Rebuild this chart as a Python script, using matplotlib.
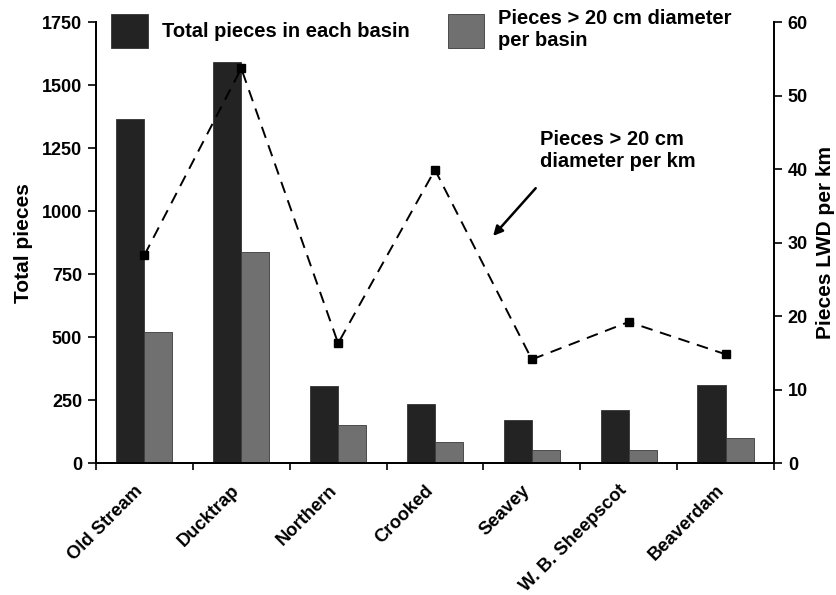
import numpy as np
import matplotlib.pyplot as plt
from matplotlib.transforms import ScaledTranslation

plt.rcParams['font.family'] = ['Liberation Sans', 'DejaVu Sans']
plt.rcParams['font.weight'] = 'bold'

# Large woody debris counts per basin
basins = ['Old Stream', 'Ducktrap', 'Northern', 'Crooked', 'Seavey',
          'W. B. Sheepscot', 'Beaverdam']
total_pieces = [1365, 1590, 305, 235, 172, 210, 310]
large_pieces = [520, 838, 152, 83, 53, 53, 99]
large_per_km = [28.3, 53.7, 16.3, 39.9, 14.1, 19.2, 14.8]

x = np.arange(len(basins)) + 0.5
w = 0.29

fig = plt.figure(figsize=(8.36, 5.95), dpi=100)
ax1 = fig.add_axes([0.1148, 0.2218, 0.811, 0.741])

b1 = ax1.bar(x - w / 2, total_pieces, w, color='#232323', edgecolor='#333333',
             linewidth=0.6, label='Total pieces in each basin')
b2 = ax1.bar(x + w / 2, large_pieces, w, color='#707070', edgecolor='#3a3a3a',
             linewidth=0.6, label='Pieces > 20 cm diameter\nper basin')

ax1.set_xlim(0, len(basins))
ax1.set_ylim(0, 1750)
ax1.set_yticks(np.arange(0, 1751, 250))
ax1.set_xticks(np.arange(0, len(basins) + 1))
ax1.set_xticklabels([])
ax1.tick_params(axis='x', length=5, width=1.2, direction='out')
ax1.tick_params(axis='y', length=6, width=1.2, labelsize=13, pad=4)
ax1.set_ylabel('Total pieces', fontsize=15, fontweight='bold', labelpad=6)

# rotated basin names below each pair of bars
name_tf = ax1.get_xaxis_transform() + ScaledTranslation(-0.10, -0.19,
                                                        fig.dpi_scale_trans)
for xi, name in zip(x, basins):
    ax1.text(xi, 0, name, transform=name_tf, rotation=45, ha='right',
             va='top', rotation_mode='anchor', fontsize=13.2,
             fontweight='bold', clip_on=False)

ax2 = ax1.twinx()
ax2.plot(x, large_per_km, color='black', linestyle=(0, (6, 4)), linewidth=1.4,
         marker='s', markersize=6)
ax2.set_ylim(0, 60)
ax2.set_yticks(np.arange(0, 61, 10))
ax2.tick_params(axis='y', length=6, width=1.2, labelsize=13, pad=4)
ax2.set_ylabel('Pieces LWD per km', fontsize=15, fontweight='bold', labelpad=6)

for a in (ax1, ax2):
    a.spines['top'].set_visible(False)
    for s in ('left', 'right', 'bottom'):
        a.spines[s].set_linewidth(1.3)

ax1.legend(handles=[b1, b2], loc='upper left', ncol=2, frameon=False,
           bbox_to_anchor=(-0.004, 1.07), handlelength=1.8,
           handleheight=2.2, columnspacing=1.9, handletextpad=0.7,
           prop={'weight': 'bold', 'size': 14.5})

ax2.text(4.58, 39.8, 'Pieces > 20 cm\ndiameter per km', fontsize=14.5,
         fontweight='bold', ha='left', va='bottom')
ax2.annotate('', xy=(4.10, 30.9), xytext=(4.54, 37.4),
             arrowprops=dict(arrowstyle='-|>', color='black', lw=1.8,
                             shrinkA=0, shrinkB=0, mutation_scale=14))

fig.savefig('out.png', dpi=100)
